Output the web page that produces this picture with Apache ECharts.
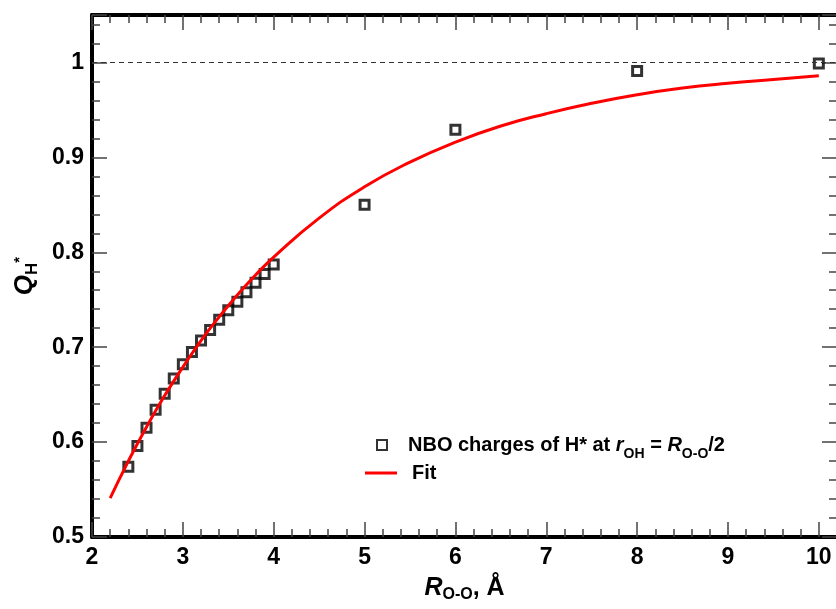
<!DOCTYPE html>
<html>
<head>
<meta charset="utf-8">
<script src="https://cdn.jsdelivr.net/npm/echarts@6/dist/echarts.min.js"></script>
<style>
  html, body { margin: 0; padding: 0; background: #fff; }
  #chart { width: 836px; height: 609px; }
</style>
</head>
<body>
<div id="chart"></div>
<script>
// O–O separation (Å) and NBO charge of the shared proton
const nboR = [2.4, 2.5, 2.6, 2.7, 2.8, 2.9, 3.0, 3.1, 3.2, 3.3, 3.4, 3.5, 3.6, 3.7, 3.8, 3.9, 4.0, 5, 6, 8, 10];
const nboQ = [0.574, 0.596, 0.615, 0.634, 0.651, 0.667, 0.682, 0.695, 0.707, 0.718, 0.729, 0.739, 0.748, 0.758, 0.768, 0.777, 0.787, 0.850, 0.929, 0.991, 0.999];

// fitted curve
const fitR = [2.2, 2.4, 2.6, 2.8, 3.0, 3.2, 3.4, 3.6, 3.8, 4.0, 4.5, 5.0, 5.5, 6.0, 6.5, 7.0, 7.5, 8.0, 8.5, 9.0, 9.5, 10.0];
const fitQ = [0.541, 0.580, 0.616, 0.649, 0.679, 0.707, 0.732, 0.755, 0.776, 0.795, 0.836, 0.869, 0.895, 0.916, 0.933, 0.946, 0.957, 0.966, 0.973, 0.978, 0.982, 0.986];

// reference level Q = 1
const limitQ = 1;

const seriesNames = ['NBO charges of H* at r_OH = R_O-O/2', 'Fit'];

const FONT = '"Liberation Sans", Arial, Helvetica, sans-serif';

const chart = echarts.init(document.getElementById('chart'), null, { renderer: 'canvas' });

const tickStyle = { color: '#444', width: 1.5 };
const frameLine = { show: true, lineStyle: { color: '#000', width: 4 } };

function frameAxis(extra) {
  return Object.assign({
    type: 'value',
    axisLine: frameLine,
    axisTick: { show: true, inside: true, length: 15, lineStyle: tickStyle },
    minorTick: { show: true, splitNumber: 5, length: 8, lineStyle: tickStyle },
    splitLine: { show: false },
    minorSplitLine: { show: false }
  }, extra);
}

const labelStyle = {
  color: '#000', fontFamily: FONT, fontWeight: 'bold', fontSize: 23,
  showMaxLabel: false
};

chart.setOption({
  animation: false,
  backgroundColor: '#fff',
  grid: {
    left: 92, top: 15, width: 745, height: 522,
    containLabel: false, outerBoundsMode: 'none'
  },
  xAxis: [
    frameAxis({
      position: 'bottom', min: 2, max: 10.2, interval: 1,
      axisLabel: Object.assign({ margin: 9 }, labelStyle),
      name: '{i|R}{sub|O-O}{b|, Å}',
      nameLocation: 'middle', nameGap: 36,
      nameTextStyle: {
        rich: {
          i: { fontFamily: FONT, fontWeight: 'bold', fontStyle: 'italic', fontSize: 25, color: '#000', lineHeight: 30 },
          b: { fontFamily: FONT, fontWeight: 'bold', fontSize: 25, color: '#000', lineHeight: 30 },
          sub: { fontFamily: FONT, fontWeight: 'bold', fontSize: 16, color: '#000', lineHeight: 15, verticalAlign: 'bottom' }
        }
      }
    }),
    frameAxis({
      position: 'top', min: 2, max: 10.2, interval: 1,
      axisLabel: { show: false }
    })
  ],
  yAxis: [
    frameAxis({
      position: 'left', min: 0.5, max: 1.05, interval: 0.1,
      axisLabel: Object.assign({ margin: 8 }, labelStyle),
      name: '{i|Q}{sub|H}{sup|*}',
      nameLocation: 'middle', nameGap: 44,
      nameTextStyle: {
        rich: {
          i: { fontFamily: FONT, fontWeight: 'bold', fontStyle: 'italic', fontSize: 26, color: '#000', lineHeight: 32 },
          sub: { fontFamily: FONT, fontWeight: 'bold', fontSize: 17, color: '#000', lineHeight: 14, verticalAlign: 'bottom' },
          sup: { fontFamily: FONT, fontWeight: 'bold', fontSize: 15, color: '#000', lineHeight: 15, verticalAlign: 'top', padding: [3, 0, 0, 0] }
        }
      }
    }),
    frameAxis({
      position: 'right', min: 0.5, max: 1.05, interval: 0.1,
      axisLine: { show: false },
      axisLabel: { show: false }
    })
  ],
  legend: [
    {
      data: [seriesNames[0]],
      left: 371, top: 430,
      itemWidth: 10, itemHeight: 10,
      formatter: () => '{b|NBO charges of H* at }{i|r}{sub|OH}{b| = }{i|R}{sub|O-O}{b|/2}',
      textStyle: {
        padding: [0, 0, 0, 16],
        rich: {
          b: { fontFamily: FONT, fontWeight: 'bold', fontSize: 20, color: '#000', lineHeight: 26 },
          i: { fontFamily: FONT, fontWeight: 'bold', fontStyle: 'italic', fontSize: 20, color: '#000', lineHeight: 26 },
          sub: { fontFamily: FONT, fontWeight: 'bold', fontSize: 14, color: '#000', lineHeight: 13, verticalAlign: 'bottom', padding: [0, 0, -3, 0] }
        }
      }
    },
    {
      data: [{ name: seriesNames[1], icon: 'rect' }],
      left: 360, top: 458,
      itemWidth: 32, itemHeight: 3,
      textStyle: {
        padding: [0, 0, 0, 10],
        fontFamily: FONT, fontWeight: 'bold', fontSize: 20, color: '#000'
      }
    }
  ],
  series: [
    {
      name: seriesNames[0],
      type: 'scatter',
      xAxisIndex: 0, yAxisIndex: 0,
      symbol: 'rect', symbolSize: 9,
      itemStyle: { color: 'rgba(255,255,255,0)', borderColor: '#000', borderWidth: 3 },
      z: 2,
      data: nboR.map((r, i) => [r, nboQ[i]]),
      markLine: {
        silent: true, symbol: 'none',
        label: { show: false },
        lineStyle: { color: '#333', width: 1.2, type: [5, 4] },
        data: [{ yAxis: limitQ }]
      }
    },
    {
      name: seriesNames[1],
      type: 'line',
      xAxisIndex: 0, yAxisIndex: 0,
      showSymbol: false, symbol: 'none',
      smooth: true,
      lineStyle: { color: '#ff0000', width: 3 },
      itemStyle: { color: '#ff0000' },
      z: 3,
      data: fitR.map((r, i) => [r, fitQ[i]])
    }
  ]
});
</script>
</body>
</html>
